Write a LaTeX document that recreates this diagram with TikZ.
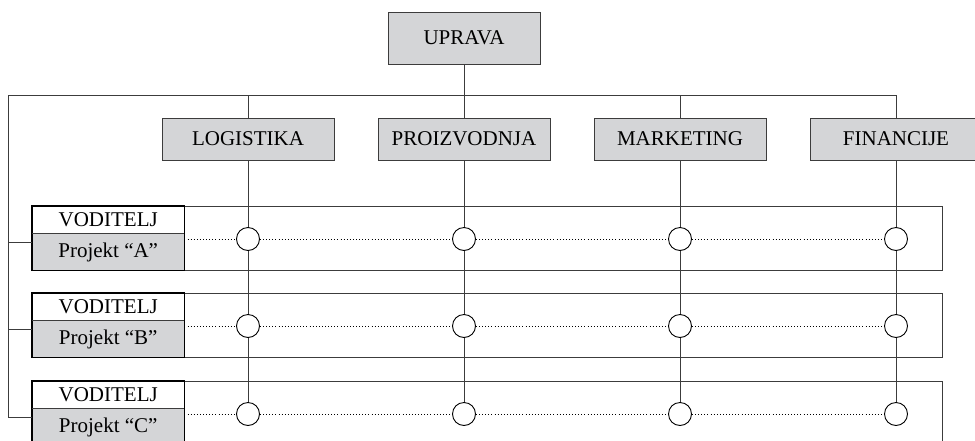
\documentclass[tikz,border=0pt]{standalone}
\usepackage{fontspec}
\setmainfont{Liberation Serif}
\usetikzlibrary{positioning}
\newcommand\orgfont{\fontsize{21}{25}\selectfont}
\definecolor{boxgray}{HTML}{D4D5D7}
\definecolor{linegray}{HTML}{3C3C3C}
\tikzset{
  dept/.style={draw=linegray, line width=0.9pt, fill=boxgray, minimum width=172pt, minimum height=42pt, inner sep=0pt, font=\orgfont},
  rowbox/.style={draw=linegray, line width=1pt, minimum width=910pt, minimum height=64pt, inner sep=0pt, anchor=north west},
  leadcell/.style={fill=white, minimum width=152pt, minimum height=27pt, inner sep=0pt, font=\orgfont, anchor=north west},
  projcell/.style={leadcell, fill=boxgray, minimum height=37pt},
  cellframe/.style={draw=black, line width=1.3pt},
  knot/.style={circle, draw=black, line width=0.9pt, fill=white, minimum size=23pt, inner sep=0pt},
  link/.style={draw=linegray, line width=0.9pt},
  dots/.style={draw=black, line width=0.7pt, dash pattern=on 0.7pt off 2.4pt}
}
\begin{document}
\begin{tikzpicture}[x=1pt, y=-1pt]
\useasboundingbox (0,0) rectangle (975,440);
\clip (0,0) rectangle (975,440);
% top management and departments
\node[dept, minimum width=152pt, minimum height=52pt] (uprava) at (464,38) {UPRAVA};
\foreach \x/\n/\t in {248/log/LOGISTIKA, 464/pro/PROIZVODNJA, 680/mar/MARKETING, 896/fin/FINANCIJE} {
  \node[dept] (\n) at (\x,139) {\t};
}
\coordinate (busL) at (8,95);
\coordinate (busR) at (896,95);
\draw[link] (busL) -- (busR);
\draw[link] (uprava) -- (uprava |- busL);
% project rows
\foreach \r/\y in {A/206, B/293, C/381} {
  \node[rowbox] (row\r) at (32,\y) {};
  \node[leadcell] (vod\r) at (32,\y) {VODITELJ};
  \node[projcell] (proj\r) at (vod\r.south west) {Projekt “\r”};
  \draw[cellframe] (vod\r.north west) rectangle (proj\r.south east);
  \draw[link] (vod\r.south west) -- (vod\r.south east);
  \coordinate (stub\r) at ([yshift=-4pt]row\r.west);
  \draw[link] (busL |- stub\r) -- (stub\r);
  \foreach \n in {log, pro, mar, fin} {
    \node[knot] (\n\r) at (\n |- 0,\y+33) {};
  }
  \draw[dots] (proj\r.east |- log\r) -- (log\r) (log\r) -- (pro\r) (pro\r) -- (mar\r) (mar\r) -- (fin\r);
}
\draw[link] (busL) -- (busL |- stubC);
% department lines through the rows
\foreach \n in {log, pro, mar, fin} {
  \draw[link] (\n |- busL) -- (\n);
  \draw[link] (\n) -- (\n A) (\n A) -- (\n B) (\n B) -- (\n C);
}
\end{tikzpicture}
\end{document}
